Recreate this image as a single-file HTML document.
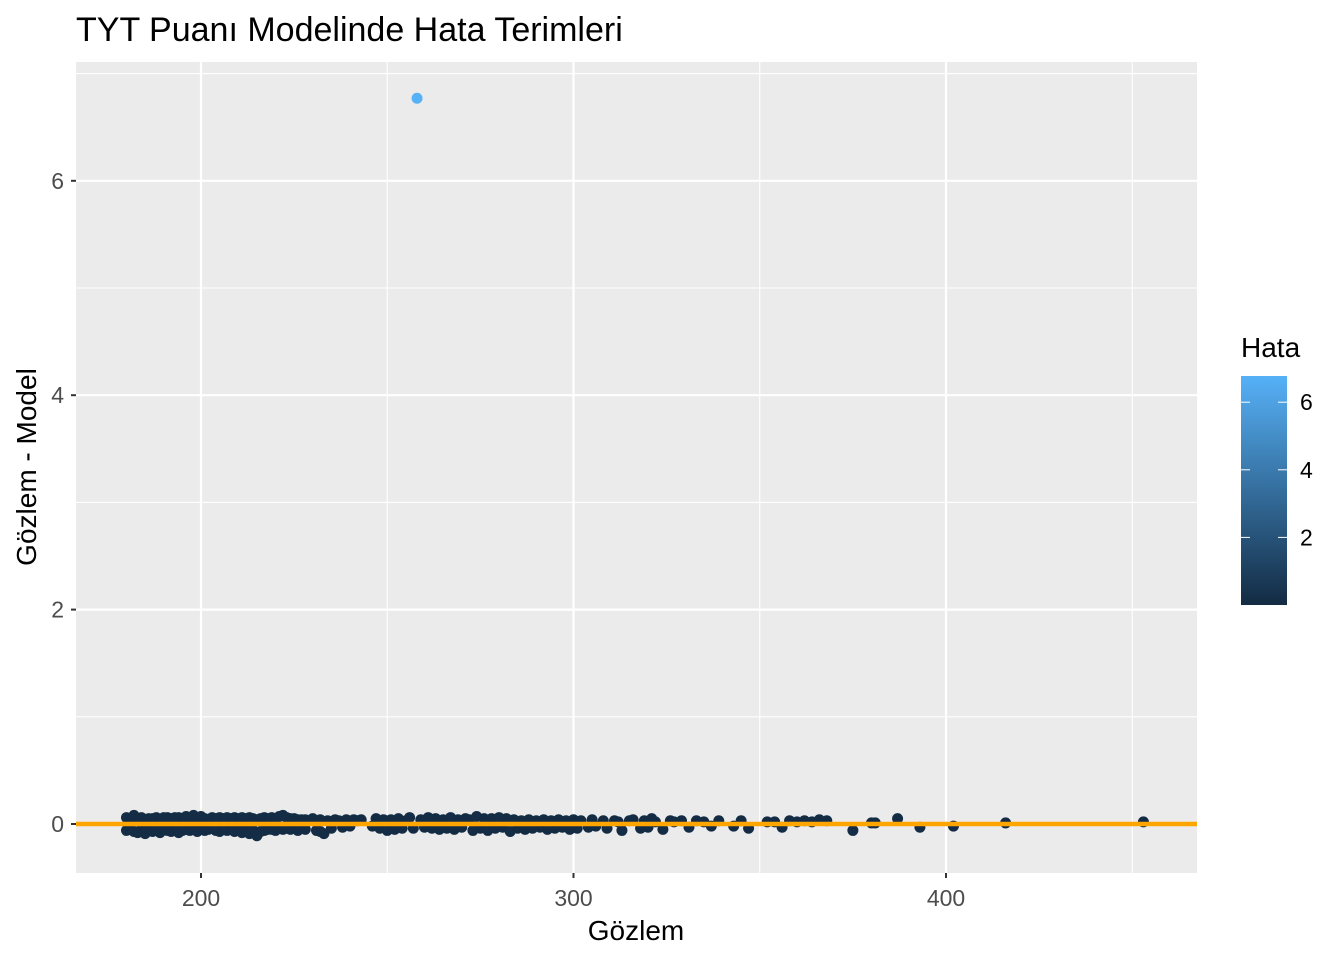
<!DOCTYPE html>
<html><head><meta charset="utf-8"><style>
body{margin:0;background:#fff;font-family:"Liberation Sans",sans-serif;}
</style></head><body>
<svg id="chart" width="1344" height="960" xmlns="http://www.w3.org/2000/svg">
<defs><linearGradient id="grad" x1="0" y1="1" x2="0" y2="0"><stop offset="0" stop-color="#132B43"/><stop offset="1" stop-color="#56B1F7"/></linearGradient></defs>
<text x="76" y="41" font-size="34" fill="#000">TYT Puanı Modelinde Hata Terimleri</text>
<rect x="76" y="62" width="1121" height="811" fill="#EBEBEB"/>
<g id="grid"></g>
<g id="points"></g>
<g id="axes"></g>
<text x="636" y="940" font-size="28" text-anchor="middle" fill="#000">Gözlem</text>
<text transform="translate(36,467) rotate(-90)" font-size="28" text-anchor="middle" fill="#000">Gözlem - Model</text>
<text x="1241" y="357" font-size="28" fill="#000">Hata</text>
<rect x="1241" y="376" width="46" height="229" fill="url(#grad)"/>
<g id="legend"></g>
</svg>
<script>
const xTicks=[200,300,400];
const yTicks=[0,2,4,6];
const legendTicks=[2,4,6];
const obsX=[
258,180,180,181,181,182,182,183,183,184,
184,185,185,186,186,187,187,188,188,189,
189,190,190,191,191,192,192,193,193,194,
194,195,195,196,196,197,197,198,198,199,
199,200,200,201,201,202,202,203,203,204,
204,205,205,206,206,207,207,208,208,209,
209,210,210,211,211,212,212,213,213,214,
214,215,215,216,216,217,217,218,218,219,
219,220,220,221,221,222,222,223,223,224,
224,225,226,226,227,228,228,229,230,231,
232,232,233,234,235,236,237,238,239,240,
241,242,243,246,247,248,249,250,251,252,
253,254,255,256,257,259,260,261,262,263,
264,265,266,267,268,269,270,271,272,273,
274,275,276,277,278,279,280,281,282,283,
284,285,286,287,288,289,290,291,292,293,
294,295,296,297,298,299,300,301,302,304,
305,306,308,309,311,312,313,315,316,318,
319,320,321,322,324,326,327,329,331,333,
335,337,339,343,345,347,352,354,356,358,
360,362,364,366,368,375,380,381,387,393,
402,416,453];
const obsY=[
6.77,0.06,-0.06,0.03,-0.05,0.08,-0.07,0.05,-0.08,0.06,
-0.05,0.04,-0.09,0.05,-0.04,0.05,-0.07,0.06,-0.06,0.04,
-0.08,0.06,-0.05,0.06,-0.06,0.05,-0.07,0.06,-0.04,0.06,
-0.08,0.05,-0.06,0.07,-0.05,0.05,-0.06,0.08,-0.05,0.05,
-0.07,0.07,-0.04,0.05,-0.06,0.04,-0.05,0.06,-0.04,0.05,
-0.06,0.06,-0.07,0.05,-0.04,0.06,-0.06,0.05,-0.05,0.06,
-0.07,0.05,-0.05,0.06,-0.08,0.05,-0.05,0.06,-0.09,0.05,
-0.06,0.04,-0.11,0.05,-0.07,0.06,-0.06,0.05,-0.05,0.06,
-0.05,0.05,-0.06,0.07,-0.04,0.08,-0.05,0.06,-0.04,0.05,
-0.05,0.05,0.04,-0.06,0.04,0.04,-0.05,0.03,0.05,-0.06,
0.04,-0.07,-0.09,0.03,-0.04,0.04,0.03,-0.03,0.04,-0.02,
0.04,0.03,0.04,-0.02,0.05,-0.04,0.04,-0.06,0.04,-0.05,
0.05,-0.04,0.03,0.06,-0.04,0.04,-0.03,0.06,-0.04,0.05,
-0.05,0.04,-0.04,0.06,-0.05,0.04,-0.03,0.05,0.04,-0.06,
0.07,-0.04,0.05,-0.06,0.05,-0.04,0.06,-0.03,0.05,-0.07,
0.04,-0.04,0.03,-0.05,0.04,-0.04,0.03,-0.03,0.04,-0.05,
0.03,-0.04,0.04,-0.03,0.03,-0.05,0.04,-0.04,0.03,-0.03,
0.04,-0.02,0.03,-0.04,0.03,0.02,-0.06,0.03,0.04,-0.04,
0.03,-0.03,0.05,0.02,-0.05,0.03,0.02,0.03,-0.03,0.03,
0.02,-0.02,0.03,-0.02,0.03,-0.04,0.02,0.02,-0.03,0.03,
0.02,0.03,0.02,0.04,0.03,-0.06,0.01,0.01,0.05,-0.03,
-0.02,0.01,0.02];
const NS='http://www.w3.org/2000/svg';
const X0=76,X1=1197,Y0=62,Y1=873;
const xs=v=>201+(v-200)*3.725;
const ys=v=>824-v*107.2;
const ls=v=>605-v*33.8;
function mk(tag,attrs,parent){const e=document.createElementNS(NS,tag);for(const k in attrs)e.setAttribute(k,attrs[k]);document.getElementById(parent).appendChild(e);return e;}
[150,250,350,450].forEach(v=>{const l=mk('line',{x1:xs(v),x2:xs(v),y1:Y0,y2:Y1,stroke:'#fff','stroke-width':1.1},'grid');

});
[1,3,5,7].forEach(v=>{if(ys(v)<Y0)return;const l=mk('line',{x1:X0,x2:X1,y1:ys(v),y2:ys(v),stroke:'#fff','stroke-width':1.1},'grid');

});
xTicks.forEach(v=>{const l=mk('line',{x1:xs(v),x2:xs(v),y1:Y0,y2:Y1,stroke:'#fff','stroke-width':2.2},'grid');


const t=mk('line',{x1:xs(v),x2:xs(v),y1:Y1,y2:Y1+5,stroke:'#333','stroke-width':2},'axes');


const tx=mk('text',{x:xs(v),y:906,'font-size':23,'text-anchor':'middle',fill:'#4D4D4D'},'axes');tx.textContent=v;

});
yTicks.forEach(v=>{const l=mk('line',{x1:X0,x2:X1,y1:ys(v),y2:ys(v),stroke:'#fff','stroke-width':2.2},'grid');


const t=mk('line',{x1:X0-5,x2:X0,y1:ys(v),y2:ys(v),stroke:'#333','stroke-width':2},'axes');


const tx=mk('text',{x:X0-12,y:ys(v)+8,'font-size':23,'text-anchor':'end',fill:'#4D4D4D'},'axes');tx.textContent=v;

});
function col(v){const t=Math.min(1,Math.abs(v)/6.77);const a=[0x13,0x2B,0x43],b=[0x56,0xB1,0xF7];return 'rgb('+a.map((c,i)=>Math.round(c+(b[i]-c)*t)).join(',')+')';}
obsX.forEach((xv,i)=>{const c=mk('circle',{cx:xs(xv),cy:ys(obsY[i]),r:5.5,fill:col(obsY[i])},'points');

});
const zl=mk('line',{x1:X0,x2:X1,y1:ys(0),y2:ys(0),stroke:'#FFA500','stroke-width':4.5},'points');


legendTicks.forEach(v=>{[[1241,1250],[1278,1287]].forEach(p=>{const l=mk('line',{x1:p[0],x2:p[1],y1:ls(v),y2:ls(v),stroke:'#fff','stroke-width':1},'legend');

});
const tx=mk('text',{x:1300,y:ls(v)+8,'font-size':23,fill:'#000'},'legend');tx.textContent=v;

});
</script>
</body></html>
